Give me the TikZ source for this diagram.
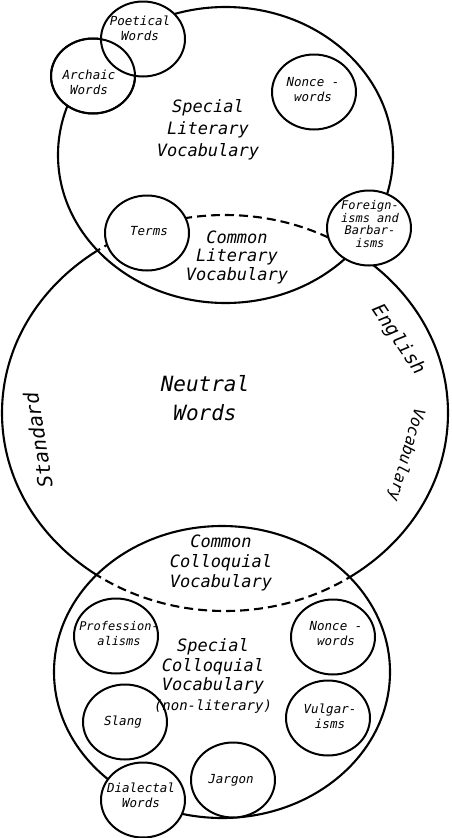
\documentclass[tikz,border=0pt]{standalone}
\usepackage{fontspec}
\setmainfont{DejaVu Sans Mono}[ItalicFont={DejaVu Sans Mono Oblique}]
\usetikzlibrary{shapes.geometric}

\begin{document}
\begin{tikzpicture}[x=1pt, y=-1pt,
    bigline/.style={line width=2.1pt},
    dashline/.style={line width=2.1pt, dash pattern=on 9pt off 5pt},
    subcirc/.style={draw, ellipse, line width=2pt, fill=white, minimum width=84pt, minimum height=75pt, inner sep=0pt},
    smalltxt/.style={align=center, inner sep=0pt, font=\fontsize{12.5}{15}\selectfont\itshape},
    bigtxt/.style={align=center, inner sep=0pt, font=\fontsize{17}{20}\selectfont\itshape}]
    \useasboundingbox (0,0) rectangle (452,838);

    % Literary and colloquial fields
    \draw[bigline] (225.5,155) ellipse [x radius=167.5pt, y radius=148pt];
    \draw[bigline] (222,672) ellipse [x radius=168pt, y radius=146pt];

    % Standard English vocabulary: dashed inside the fields, solid outside
    \begin{scope}
        \clip (225.5,155) ellipse [x radius=167.5pt, y radius=148pt]
              (222,672) ellipse [x radius=168pt, y radius=146pt];
        \draw[dashline] (225,413) ellipse [x radius=223pt, y radius=198pt];
    \end{scope}
    \begin{scope}[even odd rule]
        \clip (-10,-10) -- (462,-10) -- (462,848) -- (-10,848) -- cycle
              (225.5,155) ellipse [x radius=167.5pt, y radius=148pt]
              (222,672) ellipse [x radius=168pt, y radius=146pt];
        \draw[bigline] (225,413) ellipse [x radius=223pt, y radius=198pt];
    \end{scope}

    % Small groups, upper part
    \node[subcirc] (archaic) at (93,76) {};
    \node[subcirc] (poetical) at (143,39) {};
    \draw[line width=2pt] (archaic.center) ellipse [x radius=42pt, y radius=37.5pt];
    \node[subcirc] (nonce1) at (314,92) {};
    \node[subcirc] (terms) at (147,233) {};
    \node[subcirc] (foreign) at (369,228) {};

    \node[smalltxt] (poetical-t) at (140,28) {Poetical\\Words};
    \node[smalltxt] (archaic-t) at (89,82) {Archaic\\Words};
    \node[smalltxt] (nonce1-t) at (313,90) {Nonce -\\words};
    \node[smalltxt] (terms-t) at (149,231) {Terms};
    \node[smalltxt, font=\fontsize{12}{12.8}\selectfont\itshape] (foreign-t) at (370,224) {Foreign-\\isms and\\Barbar-\\isms};

    % Small groups, lower part
    \node[subcirc] (prof) at (116,636) {};
    \node[subcirc] (nonce2) at (333,637) {};
    \node[subcirc] (slang) at (125,722) {};
    \node[subcirc] (vulgar) at (328,718) {};
    \node[subcirc] (jargon) at (233,780) {};
    \node[subcirc] (dialect) at (143,800) {};

    \node[smalltxt, font=\fontsize{12}{15}\selectfont\itshape] (prof-t) at (119,634) {Profession-\\alisms};
    \node[smalltxt] (nonce2-t) at (336,634) {Nonce -\\words};
    \node[smalltxt] (slang-t) at (123,722) {Slang};
    \node[smalltxt] (vulgar-t) at (330,716) {Vulgar-\\isms};
    \node[smalltxt] (jargon-t) at (231,780) {Jargon};
    \node[smalltxt] (dialect-t) at (141,795) {Dialectal\\Words};

    % Field names
    \node[bigtxt, font=\fontsize{17}{22}\selectfont\itshape] (speclit) at (208,130) {Special\\Literary\\Vocabulary};
    \node[bigtxt, font=\fontsize{17}{18.5}\selectfont\itshape] (commlit) at (237,257) {Common\\Literary\\Vocabulary};
    \node[bigtxt, font=\fontsize{21}{29}\selectfont\itshape] (neutral) at (205,398) {Neutral\\Words};
    \node[bigtxt] (commcoll) at (221,563) {Common\\Colloquial\\Vocabulary};
    \node[bigtxt, font=\fontsize{17}{19.5}\selectfont\itshape] (speccoll) at (213,676) {Special\\Colloquial\\Vocabulary\\{\fontsize{14}{19.5}\selectfont(non-literary)}};

    % Labels along the outer circle
    \node[font=\fontsize{20}{24}\selectfont\itshape, rotate=99] (standard) at (38,440) {Standard};
    \node[font=\fontsize{19}{24}\selectfont\itshape, rotate=-56] (english) at (398,340) {English};
    \node[font=\fontsize{16}{20}\selectfont\itshape, rotate=-106] (vocab) at (406,455) {Vocabulary};
\end{tikzpicture}
\end{document}
